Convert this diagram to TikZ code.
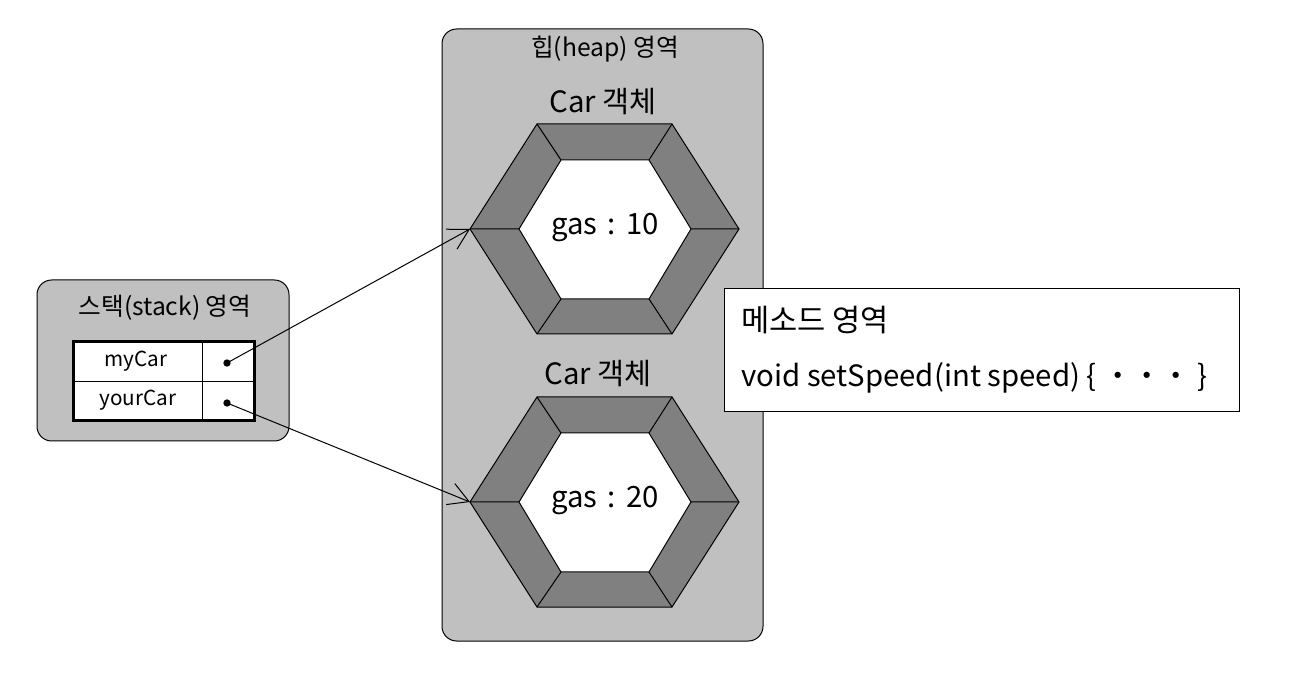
\documentclass[tikz,border=0pt]{standalone}
\usepackage{fontspec}
\setmainfont{Noto Sans CJK KR}
\usetikzlibrary{arrows.meta}
\definecolor{areagray}{HTML}{C0C0C0}
\definecolor{hexgray}{HTML}{808080}
\begin{document}
\begin{tikzpicture}[x=0.75pt,y=-0.75pt,
  area/.style={draw=black, fill=areagray, rounded corners=11pt, line width=0.75pt, inner sep=0pt},
  bigtxt/.style={font=\fontsize{22}{26}\selectfont, inner sep=0pt},
  midtxt/.style={font=\fontsize{18.5}{22}\selectfont, inner sep=0pt},
  smalltxt/.style={font=\fontsize{15.5}{18}\selectfont, inner sep=0pt},
  cell/.style={draw=black, fill=white, line width=0.75pt, inner sep=0pt, minimum height=30pt},
  refdot/.style={circle, fill=black, inner sep=0pt, minimum size=5.5pt},
  refarrow/.style={line width=0.75pt, -{Straight Barb[length=15pt, width=17pt, line width=0.75pt]}},
  hexline/.style={line width=0.75pt}
]
\useasboundingbox (0,0) rectangle (1296,680);
% areas
\node[area, minimum width=189pt, minimum height=120.75pt] (stack) at (163,360.5) {};
\node[area, minimum width=240.75pt, minimum height=459pt] (heap) at (602.5,335) {};
% titles
\node[midtxt] (stacktitle) at (165,308) {스택(stack) 영역};
\node[midtxt] (heaptitle) at (605,49) {힙(heap) 영역};
% stack table
\node[cell, minimum width=96.75pt] (c11) at (137.5,362) {};
\node[cell, minimum width=39pt] (c12) at (228,362) {};
\node[cell, minimum width=96.75pt] (c21) at (137.5,402) {};
\node[cell, minimum width=39pt] (c22) at (228,402) {};
\node[draw=black, line width=2.25pt, minimum width=135.75pt, minimum height=59.25pt, inner sep=0pt] (table) at (163.5,381.5) {};
\node[smalltxt] (mycar) at (136,361) {myCar};
\node[smalltxt] (yourcar) at (138,400) {yourCar};
\node[refdot] (d1) at (227,363) {};
\node[refdot] (d2) at (227,403) {};
% hexagons
\foreach \n/\dy/\val in {a/0/10, b/273/20}{
  \begin{scope}[yshift=-0.75*\dy pt]
    \fill[hexgray, draw=black, hexline] (470,229) -- (537,124) -- (672,124) -- (739,229) -- (672,334) -- (537,334) -- cycle;
    \fill[white, draw=black, hexline] (519,229) -- (561,160) -- (649,160) -- (691,229) -- (649,299) -- (561,299) -- cycle;
    \draw[hexline] (470,229) -- (519,229) (537,124) -- (561,160) (672,124) -- (649,160)
      (739,229) -- (691,229) (672,334) -- (649,299) (537,334) -- (561,299);
    \coordinate (hex\n) at (470,229);
    \node[bigtxt] (gas\n) at (605,228) {gas\hspace{0.35em}:\hspace{0.35em}\val};
  \end{scope}
}
\node[bigtxt] (cara) at (603,102) {Car 객체};
\node[bigtxt] (carb) at (598,374) {Car 객체};
% method area
\node[draw=black, fill=white, line width=0.75pt, minimum width=386.25pt, minimum height=92.25pt, inner sep=0pt] (method) at (981.5,350.5) {};
\node[bigtxt, anchor=base west, font=\fontsize{23}{27}\selectfont] (mtitle) at (741,332) {메소드 영역};
\node[bigtxt, anchor=base west] (msig) at (741,387) {void setSpeed(int speed) \{ ・・・ \}};
% references
\draw[refarrow] (d1.center) -- (hexa);
\draw[refarrow] (d2.center) -- (hexb);
\end{tikzpicture}
\end{document}
